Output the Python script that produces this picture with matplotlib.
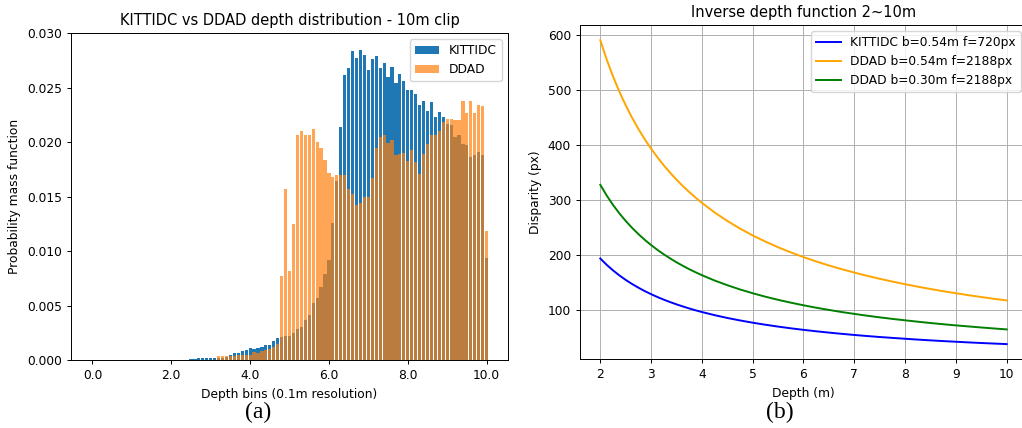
import numpy as np
import matplotlib
matplotlib.use('Agg')
import matplotlib.pyplot as plt

# ---- depth histogram, 0.1m bins, 0..10m ----
bins = np.arange(101)
tick_pos = [0, 20, 40, 60, 80, 100]
tick_labels = ['0.0', '2.0', '4.0', '6.0', '8.0', '10.0']

kitti_pmf = [0.0] * 25 + [
    0.0001, 0.0001, 0.0002, 0.00015, 0.0002, 0.0002, 0.0002, 0.0002, 0.00022, 0.00025,   # 25-34
    0.0005, 0.0006, 0.00067, 0.0008, 0.0009, 0.0011, 0.00104, 0.0011, 0.00118, 0.0014,   # 35-44
    0.00135, 0.0017, 0.0020, 0.0021, 0.0022, 0.0022, 0.0025, 0.0028, 0.0030, 0.0037,     # 45-54
    0.0041, 0.0052, 0.0057, 0.0067, 0.0079, 0.0092, 0.0126, 0.0164, 0.0214, 0.0262,      # 55-64
    0.0268, 0.0284, 0.0277, 0.0285, 0.0280, 0.0266, 0.0276, 0.0279, 0.0268, 0.0273,      # 65-74
    0.0260, 0.0269, 0.0254, 0.0263, 0.0256, 0.0248, 0.0248, 0.0244, 0.0234, 0.0238,      # 75-84
    0.0229, 0.0237, 0.0223, 0.0228, 0.0223, 0.0217, 0.0216, 0.0205, 0.0207, 0.0198,      # 85-94
    0.0197, 0.0186, 0.0188, 0.0191, 0.0188, 0.0094,                                      # 95-100
]

ddad_pmf = [0.0] * 32 + [
    0.00034, 0.00034, 0.00034,                                                           # 32-34
    0.00034, 0.0004, 0.00043, 0.0005, 0.0005, 0.0005, 0.0007, 0.00067, 0.00086, 0.0009,  # 35-44
    0.0010, 0.0012, 0.0015, 0.0077, 0.0157, 0.0082, 0.0125, 0.0207, 0.0210, 0.0207,      # 45-54
    0.0207, 0.0212, 0.0200, 0.0195, 0.0184, 0.0172, 0.0168, 0.0170, 0.0170, 0.0170,      # 55-64
    0.0157, 0.0152, 0.0142, 0.0144, 0.0150, 0.0150, 0.0167, 0.0195, 0.0205, 0.0207,      # 65-74
    0.0199, 0.0202, 0.0188, 0.0189, 0.0190, 0.0183, 0.0193, 0.0182, 0.0171, 0.0189,      # 75-84
    0.0198, 0.0207, 0.0207, 0.0210, 0.0219, 0.0221, 0.0221, 0.0220, 0.0220, 0.0238,      # 85-94
    0.0227, 0.0238, 0.0227, 0.0234, 0.0233, 0.0118,                                      # 95-100
]

# ---- disparity (px) ----
depth = [2.0, 2.125, 2.25, 2.375, 2.5, 2.625, 2.75, 2.875, 3.0, 3.125, 3.25, 3.375,
         3.5, 3.625, 3.75, 3.875, 4.0, 4.25, 4.5, 4.75, 5.0,
         5.25, 5.5, 5.75, 6.0, 6.25, 6.5, 6.75, 7.0, 7.25, 7.5, 7.75, 8.0,
         8.25, 8.5, 8.75, 9.0, 9.25, 9.5, 9.75, 10.0]
disp_kitti = [194.4, 183.0, 172.8, 163.7, 155.5, 148.1, 141.4, 135.2, 129.6, 124.4,
              119.6, 115.2, 111.1, 107.3, 103.7, 100.3, 97.2, 91.5,
              86.4, 81.9, 77.8, 74.1, 70.7, 67.6, 64.8, 62.2, 59.8, 57.6, 55.5,
              53.6, 51.8, 50.2, 48.6, 47.1, 45.7, 44.4, 43.2, 42.0, 40.9, 39.9, 38.9]
disp_ddad_054 = [590.8, 556.0, 525.1, 497.5, 472.6, 450.1, 429.6, 411.0, 393.8, 378.1,
                 363.5, 350.1, 337.6, 325.9, 315.1, 304.9, 295.4, 278.0,
                 262.6, 248.7, 236.3, 225.1, 214.8, 205.5, 196.9, 189.0, 181.8, 175.0,
                 168.8, 163.0, 157.5, 152.5, 147.7, 143.2, 139.0, 135.0, 131.3, 127.7,
                 124.4, 121.2, 118.2]
disp_ddad_030 = [328.2, 308.9, 291.7, 276.4, 262.6, 250.1, 238.7, 228.3, 218.8, 210.0,
                 202.0, 194.5, 187.5, 181.1, 175.0, 169.4, 164.1, 154.4,
                 145.9, 138.2, 131.3, 125.0, 119.3, 114.2, 109.4, 105.0, 101.0, 97.2,
                 93.8, 90.5, 87.5, 84.7, 82.1, 79.6, 77.2, 75.0, 72.9, 71.0, 69.1,
                 67.3, 65.6]

plt.rcParams['font.family'] = ['DejaVu Sans']
plt.rcParams['font.size'] = 8.8
plt.rcParams['axes.linewidth'] = 0.7
plt.rcParams['xtick.major.size'] = 3.0
plt.rcParams['ytick.major.size'] = 3.0
plt.rcParams['xtick.major.width'] = 0.7
plt.rcParams['ytick.major.width'] = 0.7
plt.rcParams['grid.linewidth'] = 0.7

fig = plt.figure(figsize=(10.22, 4.28), dpi=100)

# (a) histogram
ax1 = fig.add_axes([0.0695, 0.1589, 0.4276, 0.7633])
ax1.bar(bins, kitti_pmf, width=0.8, label='KITTIDC')
ax1.bar(bins, ddad_pmf, width=0.8, alpha=0.7, label='DDAD')
ax1.set_xticks(tick_pos)
ax1.set_xticklabels(tick_labels)
ax1.set_ylim(0, 0.03)
ax1.set_title('KITTIDC vs DDAD depth distribution - 10m clip', fontsize=10.5)
ax1.set_xlabel('Depth bins (0.1m resolution)')
ax1.set_ylabel('Probability mass function')
ax1.legend(loc='upper right')

# (b) inverse depth
ax2 = fig.add_axes([0.5675, 0.1605, 0.4374, 0.781])
ax2.plot(depth, disp_kitti, color='blue', lw=1.4, label='KITTIDC b=0.54m f=720px')
ax2.plot(depth, disp_ddad_054, color='orange', lw=1.4, label='DDAD b=0.54m f=2188px')
ax2.plot(depth, disp_ddad_030, color='green', lw=1.4, label='DDAD b=0.30m f=2188px')
ax2.grid(True)
ax2.set_title('Inverse depth function 2~10m', fontsize=10.5)
ax2.set_xlabel('Depth (m)')
ax2.set_ylabel('Disparity (px)')
ax2.legend(loc='upper right')

fig.text(0.2524, 0.037, '(a)', fontsize=17, family='Liberation Serif', ha='center', va='center')
fig.text(0.763, 0.037, '(b)', fontsize=17, family='Liberation Serif', ha='center', va='center')

fig.savefig('out.png', dpi=100)
